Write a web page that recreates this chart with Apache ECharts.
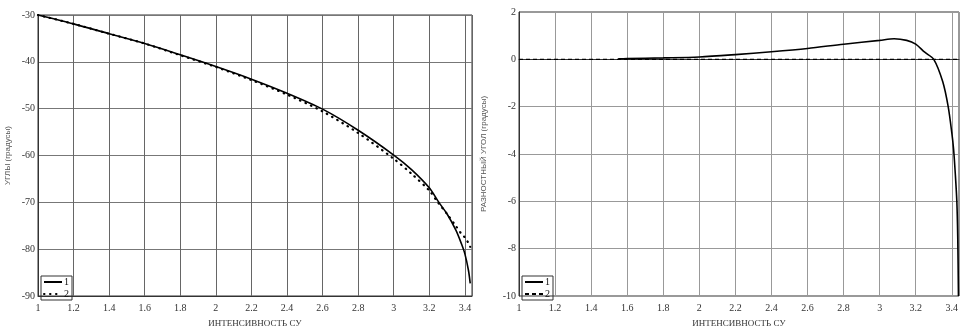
<!DOCTYPE html>
<html><head><meta charset="utf-8">
<script src="https://cdn.jsdelivr.net/npm/echarts@6/dist/echarts.min.js"></script>
<style>html,body{margin:0;padding:0;background:#fff}#c{width:970px;height:333px}</style>
</head><body><div id="c"></div>
<script>
// Left chart: angles
const xLeft = [1.0,1.2,1.4,1.6,1.8,2.0,2.2,2.4,2.6,2.8,3.0,3.1,3.2,3.25,3.3,3.35,3.38,3.4,3.42,3.43];
const angle1 = [-30,-31.9,-34.0,-36.1,-38.5,-41.0,-43.7,-46.7,-50.1,-54.6,-59.9,-63.0,-66.9,-69.8,-72.5,-76.0,-78.8,-81.0,-84.5,-87.3];
const angle2 = [-30,-31.9,-34.0,-36.1,-38.6,-41.1,-43.9,-47.0,-50.6,-55.2,-60.7,-63.9,-67.5,-70.1,-72.5,-75.1,-76.7,-77.5,-78.7,-79.5];
// Right chart: difference angle
const xRight = [1.55,1.6,1.8,2.0,2.2,2.4,2.6,2.8,3.0,3.08,3.15,3.2,3.25,3.3,3.35,3.38,3.4,3.41,3.42,3.428,3.433,3.437];
const diff1 = [0.02,0.03,0.06,0.1,0.2,0.32,0.46,0.64,0.8,0.87,0.8,0.64,0.3,0.0,-0.95,-2.0,-3.1,-3.8,-4.9,-6.0,-7.5,-10];
const xZero = [1.0,3.44];
const diff2 = [0,0];

const leftTitle = 'УГЛЫ (градусы)';
const rightTitle = 'РАЗНОСТНЫЙ УГОЛ (градусы)';
const xTitle = 'ИНТЕНСИВНОСТЬ СУ';

const zip = (xs, ys) => xs.map((x, i) => [x, ys[i]]);
const serif = 'Liberation Serif, DejaVu Serif, serif';

function xAxis(idx, gridColor) {
  return {
    type: 'value', gridIndex: idx, min: 1, max: 3.44, interval: 0.2,
    name: xTitle, nameLocation: 'middle', nameGap: 23,
    nameTextStyle: {fontFamily: serif, fontSize: 9, color: '#333'},
    axisLine: {show: true, lineStyle: {color: '#333', width: 1}},
    axisTick: {show: false},
    axisLabel: {fontFamily: serif, fontSize: 10, color: '#333', margin: 7, showMaxLabel: false,
      formatter: v => String(Math.round(v * 10) / 10)},
    splitLine: {show: true, lineStyle: {color: gridColor, width: 1}}
  };
}
function yAxis(idx, min, max, interval, title, gap, gridColor) {
  return {
    type: 'value', gridIndex: idx, min: min, max: max, interval: interval,
    name: title, nameLocation: 'middle', nameRotate: 90, nameGap: gap,
    nameTextStyle: {fontFamily: 'Liberation Sans, Arial, sans-serif', fontSize: 8, color: '#555'},
    axisLine: {show: true, lineStyle: {color: '#333', width: 1}},
    axisTick: {show: false},
    axisLabel: {fontFamily: serif, fontSize: 10, color: '#333', margin: 3},
    splitLine: {show: true, lineStyle: {color: gridColor, width: 1}}
  };
}
const legendBase = {
  orient: 'vertical', itemWidth: 18, itemHeight: 8, itemGap: 2,
  borderColor: '#333', borderWidth: 1, padding: [1, 3, 1, 2],
  itemStyle: {opacity: 0},
  textStyle: {fontFamily: serif, fontSize: 10, color: '#111', padding: [0, 0, 0, -3]}
};

const chart = echarts.init(document.getElementById('c'), null, {renderer: 'canvas'});
chart.setOption({
  animation: false,
  backgroundColor: '#fff',
  grid: [
    {left: 38, top: 15, width: 434, height: 286, show: true, borderColor: '#333', borderWidth: 1},
    {left: 519, top: 12, width: 440, height: 289, show: true, borderColor: '#333', borderWidth: 1}
  ],
  xAxis: [xAxis(0, '#666'), xAxis(1, '#999')],
  yAxis: [yAxis(0, -90, -30, 10, leftTitle, 26, '#777'), yAxis(1, -10, 2, 2, rightTitle, 31, '#999')],
  legend: [
    Object.assign({data: ['1', '2'], left: 41, top: 276}, legendBase),
    Object.assign({data: ['1 ', '2 '], left: 522, top: 276, formatter: n => n.trim()}, legendBase)
  ],
  series: [
    {name: '1', type: 'line', xAxisIndex: 0, yAxisIndex: 0, data: zip(xLeft, angle1), smooth: 0.3,
      symbol: 'none', lineStyle: {color: '#000', width: 1.6}, itemStyle: {color: '#000'}},
    {name: '2', type: 'line', xAxisIndex: 0, yAxisIndex: 0, data: zip(xLeft, angle2), smooth: 0.3,
      symbol: 'none', lineStyle: {color: '#000', width: 2.2, type: [0.5, 5.5], cap: 'round'}, itemStyle: {color: '#000'}},
    {name: '1 ', type: 'line', xAxisIndex: 1, yAxisIndex: 1, data: zip(xRight, diff1), smooth: 0.3,
      symbol: 'none', lineStyle: {color: '#000', width: 1.6}, itemStyle: {color: '#000'}},
    {name: '2 ', type: 'line', xAxisIndex: 1, yAxisIndex: 1, data: zip(xZero, diff2),
      symbol: 'none', lineStyle: {color: '#000', width: 1.3, type: [4, 3]}, itemStyle: {color: '#000'}}
  ]
});
</script></body></html>
